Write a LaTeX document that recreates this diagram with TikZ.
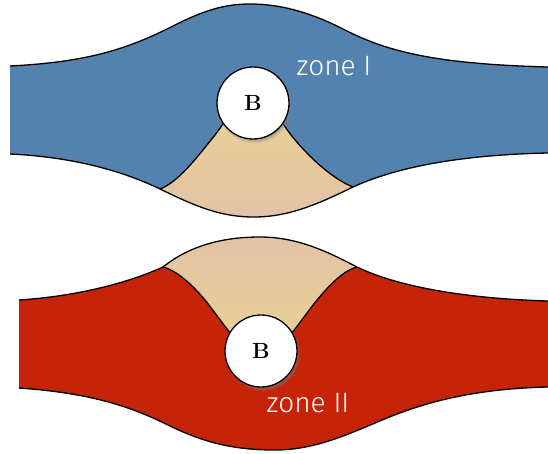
\documentclass[tikz,border=0pt]{standalone}
\usepackage{fontspec}
\newfontfamily\zonefont{Fira Sans Light}
\usetikzlibrary{shadows}
\definecolor{zoneblue}{RGB}{84,130,174}
\definecolor{zonered}{RGB}{197,36,8}
\definecolor{sandlight}{RGB}{233,210,146}
\definecolor{sanddark}{RGB}{226,195,166}
\begin{document}
\begin{tikzpicture}[x=1pt,y=-1pt,
  edge/.style={line width=1.3pt, black},
  ball/.style={circle, draw=black, line width=1.3pt, fill=white,
    minimum size=72pt, inner sep=0pt,
    font=\fontsize{22}{24}\selectfont\bfseries,
    circular drop shadow={shadow xshift=1.5pt, shadow yshift=-2.5pt, shadow scale=1.05, opacity=0.7}},
  zonelabel/.style={text=white, font=\zonefont\fontsize{28}{30}\selectfont}]
\useasboundingbox (0,0) rectangle (548,453);

% ---------- upper band ----------
\fill[zoneblue] (10,66) .. controls (90,62) and (130,48) .. (175,25)
  .. controls (205,10) and (225,4) .. (250,4)
  .. controls (280,4) and (310,12) .. (345,30)
  .. controls (390,53) and (440,64) .. (548,67)
  -- (548,153) .. controls (450,155) and (390,170) .. (353,187)
  .. controls (320,203) and (290,217) .. (254,217)
  .. controls (220,217) and (195,206) .. (160,189)
  .. controls (125,172) and (75,157) .. (10,154) -- cycle;
\shade[top color=sandlight, bottom color=sanddark]
  (160,189) .. controls (195,206) and (220,217) .. (254,217)
  .. controls (290,217) and (320,203) .. (353,187)
  .. controls (335,180) and (311,160) .. (291,135)
  .. controls (276,115) and (266,95) .. (253,95)
  .. controls (240,95) and (230,115) .. (215,135)
  .. controls (195,160) and (178,182) .. (160,189) -- cycle;
\draw[edge] (10,66) .. controls (90,62) and (130,48) .. (175,25)
  .. controls (205,10) and (225,4) .. (250,4)
  .. controls (280,4) and (310,12) .. (345,30)
  .. controls (390,53) and (440,64) .. (548,67);
\draw[edge] (10,154) .. controls (75,157) and (125,172) .. (160,189)
  .. controls (195,206) and (220,217) .. (254,217)
  .. controls (290,217) and (320,203) .. (353,187)
  .. controls (390,170) and (450,155) .. (548,153);
\draw[edge] (160,189) .. controls (178,182) and (195,160) .. (215,135)
  .. controls (230,115) and (240,95) .. (253,95)
  .. controls (266,95) and (276,115) .. (291,135)
  .. controls (311,160) and (335,180) .. (353,187);
\node[ball] (ballI) at (253,103) {B};
\node[zonelabel] (zoneI) at (334,66) {zone I};

% ---------- lower band ----------
\fill[zonered] (19,300) .. controls (80,296) and (130,282) .. (163,267)
  .. controls (188,247) and (220,237) .. (260,237)
  .. controls (298,237) and (328,252) .. (357,267)
  .. controls (390,283) and (450,298) .. (548,301)
  -- (548,387) .. controls (460,389) and (410,408) .. (375,423)
  .. controls (340,438) and (310,450) .. (275,450)
  .. controls (235,450) and (205,443) .. (170,426)
  .. controls (130,406) and (90,393) .. (19,388) -- cycle;
\shade[top color=sanddark, bottom color=sandlight]
  (163,267) .. controls (188,247) and (220,237) .. (260,237)
  .. controls (298,237) and (328,252) .. (357,267)
  .. controls (345,270) and (332,282) .. (317,300)
  .. controls (297,325) and (277,358) .. (261,358)
  .. controls (245,358) and (225,325) .. (205,300)
  .. controls (190,282) and (175,270) .. (163,267) -- cycle;
\draw[edge] (19,300) .. controls (80,296) and (130,282) .. (163,267)
  .. controls (188,247) and (220,237) .. (260,237)
  .. controls (298,237) and (328,252) .. (357,267)
  .. controls (390,283) and (450,298) .. (548,301);
\draw[edge] (19,388) .. controls (90,393) and (130,406) .. (170,426)
  .. controls (205,443) and (235,450) .. (275,450)
  .. controls (310,450) and (340,438) .. (375,423)
  .. controls (410,408) and (460,389) .. (548,387);
\draw[edge] (163,267) .. controls (175,270) and (190,282) .. (205,300)
  .. controls (225,325) and (245,358) .. (261,358)
  .. controls (277,358) and (297,325) .. (317,300)
  .. controls (332,282) and (345,270) .. (357,267);
\node[ball] (ballII) at (261,351) {B};
\node[zonelabel] (zoneII) at (308,403) {zone II};
\end{tikzpicture}
\end{document}
